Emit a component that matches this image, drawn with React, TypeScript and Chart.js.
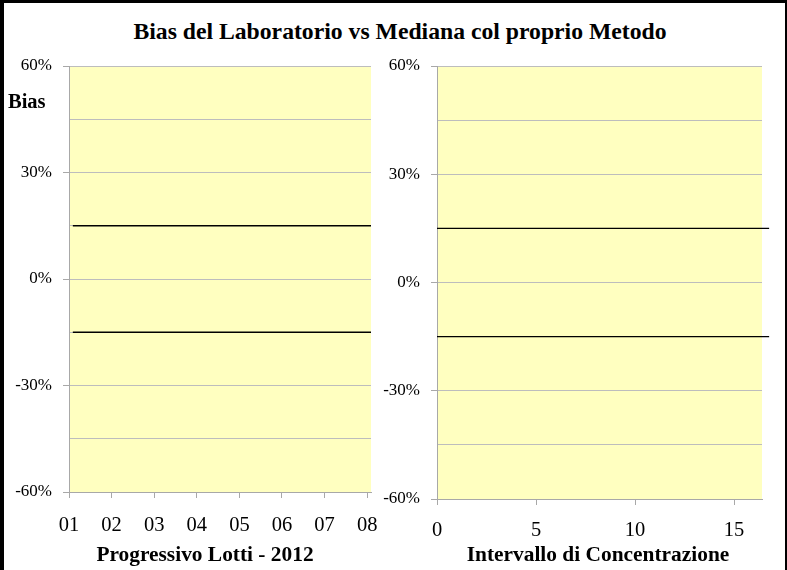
import React, { useEffect, useRef } from 'react';
import { Chart, registerables } from 'chart.js';

Chart.register(...registerables);

// ---- data ----
const yMin = -60;
const yMax = 60;
const yStep = 15;
const yLabelStep = 30;

const leftXTickLabels = ['01', '02', '03', '04', '05', '06', '07', '08'];
const leftXMin = 1;
const leftXMax = 8.09;

const rightXMin = 0;
const rightXMax = 16.41;
const rightXStep = 5;

const upperLimit = 15;
const lowerLimit = -15;
const leftLimitX = [1.09, 8.09];
const rightLimitX = [0, 16.77];

const titleText = 'Bias del Laboratorio vs Mediana col proprio Metodo';
const yTitleText = 'Bias';
const leftXTitle = 'Progressivo Lotti - 2012';
const rightXTitle = 'Intervallo di Concentrazione';

// ---- styles ----
const FONT = '"Liberation Serif", "Times New Roman", serif';
const GRID = '#bdbdbd';
const AXIS = '#a8a8a8';
const PLOT_BG = '#ffffc0';

const bgPlugin = {
  id: 'plotBg',
  beforeDraw(chart: any) {
    const { ctx, chartArea: a } = chart;
    ctx.save();
    ctx.fillStyle = PLOT_BG;
    ctx.fillRect(a.left, a.top, a.right - a.left, a.bottom - a.top);
    ctx.restore();
  },
};

function yScale(width: number) {
  return {
    type: 'linear',
    position: 'left',
    min: yMin,
    max: yMax,
    ticks: {
      stepSize: yStep,
      padding: 11,
      color: '#000',
      font: { family: FONT, size: 17 },
      callback: (v: number) => (Math.round(v) % yLabelStep === 0 ? `${v}%` : ''),
    },
    grid: {
      color: GRID,
      lineWidth: 1,
      tickLength: 6,
      tickColor: (c: any) =>
        c.tick && Math.round(c.tick.value) % yLabelStep === 0 ? AXIS : 'rgba(0,0,0,0)',
    },
    border: { color: AXIS, width: 1 },
    afterFit: (s: any) => {
      s.width = width;
      s.paddingTop = 0;
      s.paddingBottom = 0;
    },
  };
}

function limitDatasets(xs: number[]) {
  return [upperLimit, lowerLimit].map((lim) => ({
    data: xs.map((x) => ({ x, y: lim })),
    showLine: true,
    borderColor: '#000',
    borderWidth: 1.3,
    pointRadius: 0,
    clip: false,
  }));
}

function leftConfig(): any {
  return {
    type: 'scatter',
    data: { datasets: limitDatasets(leftLimitX) },
    options: {
      animation: false,
      responsive: false,
      maintainAspectRatio: false,
      layout: { padding: { left: 0, right: 14, top: 16, bottom: 0 } },
      plugins: { legend: { display: false }, tooltip: { enabled: false }, title: { display: false } },
      scales: {
        x: {
          type: 'linear',
          position: 'bottom',
          min: leftXMin,
          max: leftXMax,
          ticks: {
            stepSize: 1,
            includeBounds: false,
            autoSkip: false,
            maxRotation: 0,
            padding: 15,
            color: '#000',
            font: { family: FONT, size: 20.5 },
            callback: (v: number) => leftXTickLabels[Math.round(v) - leftXMin] ?? '',
          },
          grid: { drawOnChartArea: false, drawTicks: true, tickLength: 6, color: AXIS },
          border: { color: AXIS, width: 1 },
          afterFit: (s: any) => {
            s.height = 53;
            s.paddingLeft = 0;
            s.paddingRight = 0;
          },
        },
        y: yScale(69),
      },
    },
    plugins: [bgPlugin],
  };
}

function rightConfig(): any {
  return {
    type: 'scatter',
    data: { datasets: limitDatasets(rightLimitX) },
    options: {
      animation: false,
      responsive: false,
      maintainAspectRatio: false,
      layout: { padding: { left: 0, right: 18, top: 16, bottom: 0 } },
      plugins: { legend: { display: false }, tooltip: { enabled: false }, title: { display: false } },
      scales: {
        x: {
          type: 'linear',
          position: 'bottom',
          min: rightXMin,
          max: rightXMax,
          ticks: {
            stepSize: rightXStep,
            includeBounds: false,
            autoSkip: false,
            maxRotation: 0,
            padding: 13,
            color: '#000',
            font: { family: FONT, size: 20.5 },
            callback: (v: number) => `${v}`,
          },
          grid: { drawOnChartArea: false, drawTicks: true, tickLength: 6, color: AXIS },
          border: { color: AXIS, width: 1 },
          afterFit: (s: any) => {
            s.height = 46;
            s.paddingLeft = 0;
            s.paddingRight = 0;
          },
        },
        y: yScale(57),
      },
    },
    plugins: [bgPlugin],
  };
}

function Panel({ make, left, top, width, height }: any) {
  const ref = useRef<HTMLCanvasElement>(null);
  useEffect(() => {
    const chart = new Chart(ref.current as HTMLCanvasElement, make());
    return () => chart.destroy();
  }, []);
  return (
    <canvas
      ref={ref}
      width={width}
      height={height}
      style={{ position: 'absolute', left, top, width, height, display: 'block' }}
    />
  );
}

const textBase: React.CSSProperties = {
  position: 'absolute',
  fontFamily: FONT,
  fontWeight: 'bold',
  color: '#000',
  lineHeight: 1,
  whiteSpace: 'nowrap',
};

export default function App() {
  return (
    <div
      style={{
        position: 'absolute',
        left: 0,
        top: 0,
        width: 787,
        height: 570,
        background: '#fff',
        overflow: 'hidden',
      }}
    >
      <Panel make={leftConfig} left={0} top={50} width={385} height={495} />
      <Panel make={rightConfig} left={380} top={50} width={400} height={495} />
      <div style={{ ...textBase, left: 100, width: 600, top: 20, fontSize: 23.7, textAlign: 'center' }}>
        {titleText}
      </div>
      <div style={{ ...textBase, left: 8, top: 91, fontSize: 20.5 }}>{yTitleText}</div>
      <div style={{ ...textBase, left: 55, width: 300, top: 544, fontSize: 21.4, textAlign: 'center' }}>
        {leftXTitle}
      </div>
      <div style={{ ...textBase, left: 448, width: 300, top: 544, fontSize: 21.4, textAlign: 'center' }}>
        {rightXTitle}
      </div>
      <div
        style={{
          position: 'absolute',
          left: 0,
          top: 0,
          width: 787,
          height: 570,
          boxSizing: 'border-box',
          borderLeft: '4px solid #000',
          borderTop: '3px solid #000',
          borderRight: '2px solid #000',
          pointerEvents: 'none',
        }}
      />
    </div>
  );
}
